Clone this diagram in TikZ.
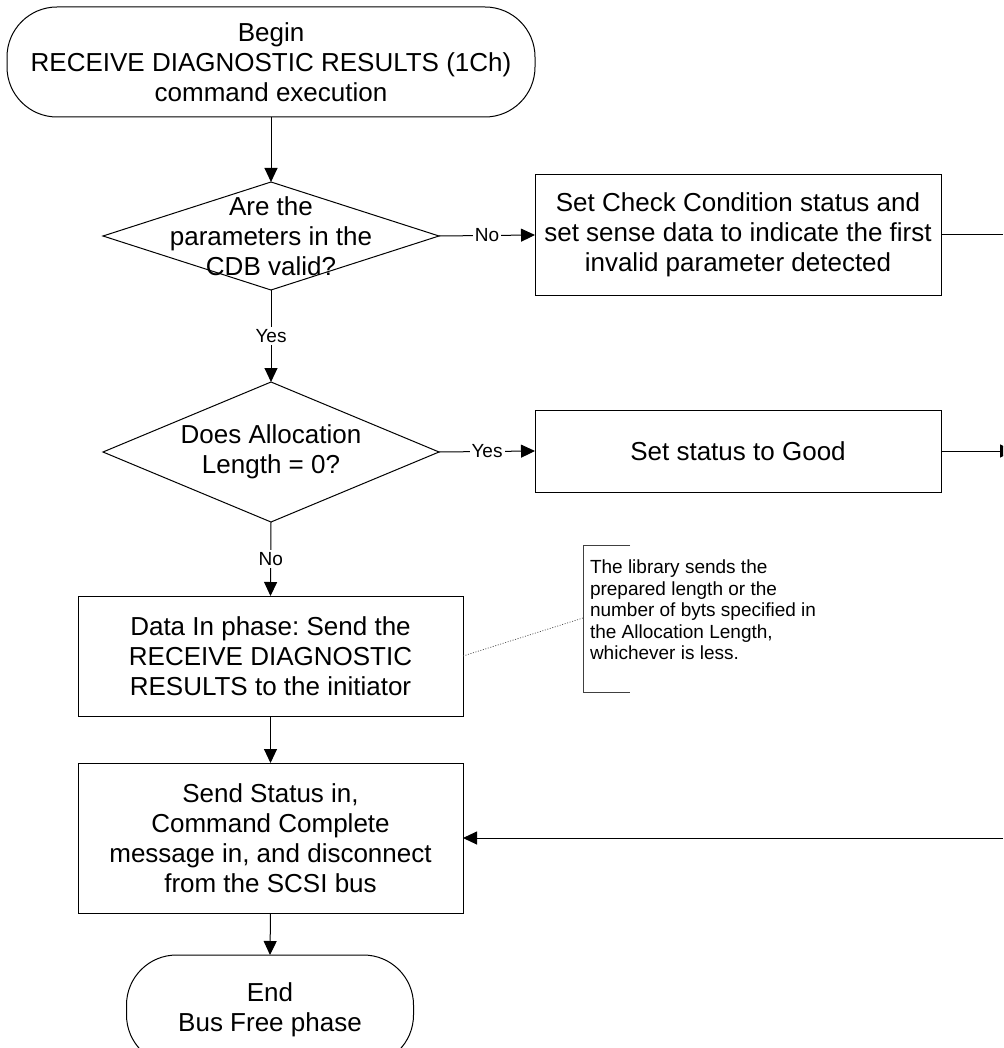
\documentclass[tikz,border=0pt]{standalone}
\usepackage{fontspec}
\setmainfont{Liberation Sans}
\usetikzlibrary{shapes.geometric,arrows.meta}
\frenchspacing
\begin{document}
\begin{tikzpicture}[x=1pt,y=-1pt,
  every node/.style={inner sep=0pt, outer sep=0pt},
  main/.style={font=\fontsize{26}{30}\selectfont, align=center},
  terminal/.style={draw, rectangle, rounded corners=50pt, main, line width=1pt},
  procbox/.style={draw, rectangle, main, line width=1pt},
  decision/.style={draw, diamond, line width=1pt},
  lbl/.style={fill=white, font=\fontsize{19}{22}\selectfont, inner sep=2pt},
  flow/.style={line width=1pt, -{Triangle[length=14pt,width=13pt]}},
  link/.style={line width=1pt},
  notefont/.style={font=\fontsize{19}{21.5}\selectfont, align=left},
]
\useasboundingbox (0,0) rectangle (1003,1048);
\clip (0,0) rectangle (1003,1048);
\fill[white] (0,0) rectangle (1003,1048);

% terminals
\node[terminal, minimum width=528pt, minimum height=110pt] (begin) at (271,62)
  {Begin\\RECEIVE DIAGNOSTIC RESULTS (1Ch)\\command execution};
\node[terminal, minimum width=287pt, minimum height=110pt] (end) at (270,1010)
  {End\\Bus Free phase};

% decisions
\node[decision, minimum width=336pt, minimum height=108pt] (d1) at (271,236) {};
\node[main] (d1t) at (d1.center) {Are the\\parameters in the\\CDB valid?};
\node[decision, minimum width=336pt, minimum height=140pt] (d2) at (271,452) {};
\node[main] (d2t) at (d2.center) {Does Allocation\\Length = 0?};

% process boxes
\node[procbox, minimum width=406pt, minimum height=120pt] (b1) at (738,235)
  {Set Check Condition status and\\set sense data to indicate the first\\invalid parameter detected};
\node[procbox, minimum width=406pt, minimum height=82pt] (b2) at (738,451)
  {Set status to Good};
\node[procbox, minimum width=385pt, minimum height=120pt] (b3) at (270.5,656)
  {Data In phase: Send the\\RECEIVE DIAGNOSTIC\\RESULTS to the initiator};
\node[procbox, minimum width=385pt, minimum height=150pt] (b4) at (270.5,838)
  {Send Status in,\\Command Complete\\message in, and disconnect\\from the SCSI bus};

% annotation
\node[notefont, anchor=west] (note) at (590,610)
  {The library sends the\\prepared length or the\\number of byts specified in\\the Allocation Length,\\whichever is less.};
\coordinate (bt) at (583,545);
\coordinate (bb) at (583,692);
\coordinate (bm) at (583,618);
\draw[line width=0.8pt, black!75] ([xshift=47pt]bt) -- (bt) -- (bb) -- ([xshift=47pt]bb);
\draw[line width=0.7pt, dash pattern=on 1pt off 1.6pt, black!70] (b3.east) -- (bm);

% edge coordinates
\coordinate (r1) at (1003,235);
\coordinate (r2) at (1014,451);
\coordinate (r4) at (1003,838);

% connectors
\draw[flow] (begin.south) -- (d1.north);
\draw[flow] (d1.east) -- node[lbl] {No} (b1.west);
\draw[flow] (d1.south) -- node[lbl] {Yes} (d2.north);
\draw[flow] (d2.east) -- node[lbl] {Yes} (b2.west);
\draw[flow] (d2.south) -- node[lbl] {No} (b3.north);
\draw[flow] (b3.south) -- (b4.north);
\draw[flow] (b4.south) -- (end.north);
\draw[link] (b1.east) -- (r1);
\draw[flow] (b2.east) -- (r2);
\draw[flow] (r4) -- (b4.east);
\end{tikzpicture}
\end{document}
